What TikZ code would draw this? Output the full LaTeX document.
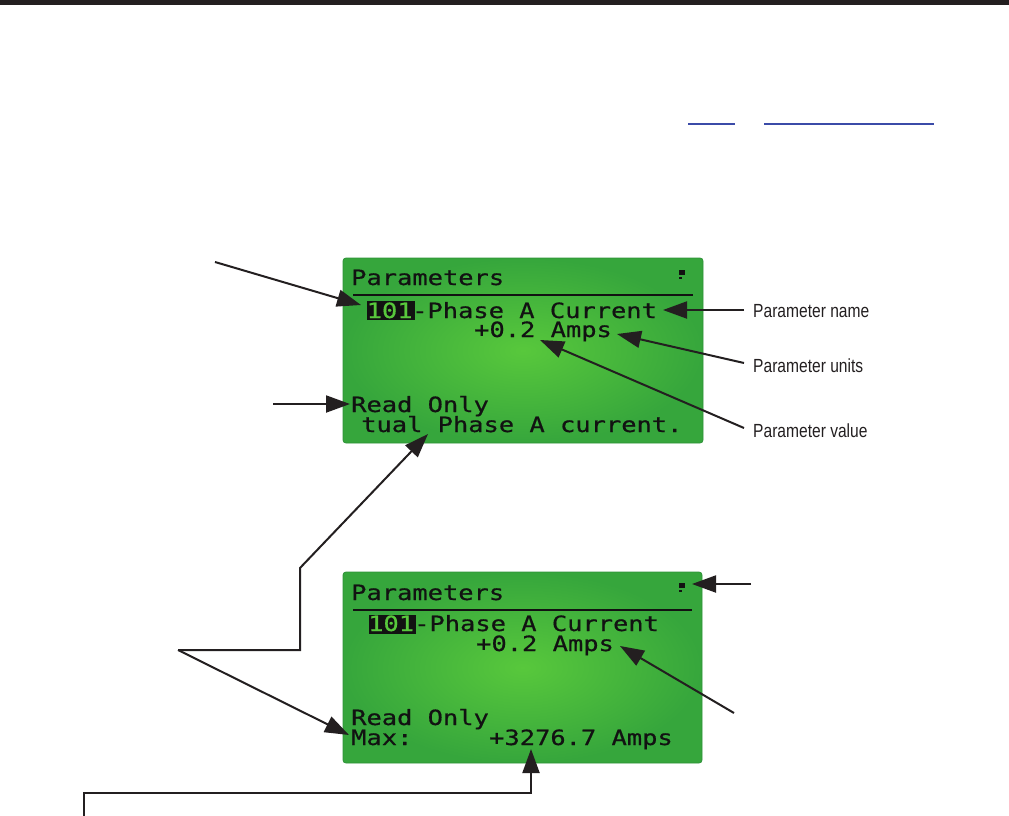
\documentclass[tikz,border=0pt]{standalone}
\usepackage{fontspec}
\usetikzlibrary{arrows.meta}
\newfontfamily\lcdfont{DejaVu Sans Mono}[FakeStretch=1.21, FakeBold=0.6]
\newfontfamily\labfont{Liberation Sans}[FakeStretch=0.82]
\definecolor{lcdin}{HTML}{58C83C}
\definecolor{lcdout}{HTML}{36A63C}
\definecolor{lcdframe}{HTML}{2E9238}
\definecolor{lcdink}{HTML}{121212}
\definecolor{lineblack}{HTML}{231F20}
\definecolor{linkblue}{HTML}{3B4BA8}
\begin{document}
\begin{tikzpicture}[x=1pt,y=-1pt,
  lcdtext/.style={anchor=base west, inner sep=0, text=lcdink, font=\lcdfont\fontsize{21}{21}\selectfont},
  lcdhl/.style={anchor=base west, inner sep=0, text=lcdin, font=\lcdfont\fontsize{21}{21}\selectfont},
  lab/.style={anchor=base west, inner sep=0, text=lineblack, font=\labfont\fontsize{19}{19}\selectfont},
  conn/.style={line width=2pt, draw=lineblack, line join=miter, -{Triangle[length=24pt,width=17pt]}},
  lcdpanel/.style={inner color=lcdin, outer color=lcdout, rounded corners=3pt},
  sepline/.style={line width=2pt, draw=lcdink}
]
\useasboundingbox (0,0) rectangle (1009,816);
% top rule and link underlines
\fill[lineblack] (0,0.5) rectangle (1009,5);
\draw[linkblue, line width=1.6pt] (688,124) -- (735,124);
\draw[linkblue, line width=1.6pt] (764,124) -- (934,124);

% ---------- LCD 1 ----------
\shade[lcdpanel] (343,258) rectangle (703,443);
\draw[lcdframe, line width=0.8pt, rounded corners=3pt] (343,258) rectangle (703,443);
\node[lcdtext] (p1) at (351,285) {Parameters};
\fill[lcdink] (679,270) rectangle (685,274.5);
\fill[lcdink] (679,276.5) rectangle (682,279);
\draw[sepline] (353,295) -- (693,295);
\fill[lcdink] (367,301) rectangle (415,320);
\node[lcdhl] (n1) at (366.5,318) {101};
\node[lcdtext] (c1) at (412,318) {-Phase A Current};
\node[lcdtext] (v1) at (474,337) {+0.2 Amps};
\node[lcdtext] (r1) at (351,412) {Read Only};
\node[lcdtext] (d1) at (361,432) {tual Phase A current.};

% ---------- LCD 2 ----------
\shade[lcdpanel] (343,572) rectangle (702,763);
\draw[lcdframe, line width=0.8pt, rounded corners=3pt] (343,572) rectangle (702,763);
\node[lcdtext] (p2) at (351,600) {Parameters};
\fill[lcdink] (679,583) rectangle (685,587.5);
\fill[lcdink] (679,589.5) rectangle (682,592);
\draw[sepline] (353,610) -- (692,610);
\fill[lcdink] (369,615) rectangle (416,634);
\node[lcdhl] (n2) at (368,631) {101};
\node[lcdtext] (c2) at (414,631) {-Phase A Current};
\node[lcdtext] (v2) at (476,651) {+0.2 Amps};
\node[lcdtext] (r2) at (351,725) {Read Only};
\node[lcdtext] (m2) at (351,745) {Max:};
\node[lcdtext] (x2) at (489,745) {+3276.7 Amps};

% ---------- labels ----------
\node[lab] (lname) at (753,317) {Parameter name};
\node[lab] (lunits) at (753,372) {Parameter units};
\node[lab] (lvalue) at (753,437) {Parameter value};

% ---------- connector points ----------
\coordinate (s1) at (215,262);  \coordinate (t1) at (361,305);
\coordinate (s2) at (273,404);  \coordinate (t2) at (350,404);
\coordinate (s3) at (744,310);  \coordinate (t3) at (663,310);
\coordinate (s4) at (744,363);  \coordinate (t4) at (617,334);
\coordinate (s5) at (744,428);  \coordinate (t5) at (540,340);
\coordinate (s6) at (178,650);  \coordinate (b6) at (300,650);
\coordinate (c6) at (300,568);  \coordinate (t6) at (428,434);
\coordinate (t7) at (349,735);
\coordinate (s8) at (751,584);  \coordinate (t8) at (692,584);
\coordinate (s9) at (734,713);  \coordinate (t9) at (620,646);
\coordinate (s10) at (84,816);  \coordinate (b10) at (84,793);
\coordinate (c10) at (531,793); \coordinate (t10) at (531,749);

% ---------- connectors ----------
\draw[conn] (s1) -- (t1);
\draw[conn] (s2) -- (t2);
\draw[conn] (s3) -- (t3);
\draw[conn] (s4) -- (t4);
\draw[conn] (s5) -- (t5);
\draw[conn] (s6) -- (b6) -- (c6) -- (t6);
\draw[conn] (s6) -- (t7);
\draw[conn] (s8) -- (t8);
\draw[conn] (s9) -- (t9);
\draw[conn] (s10) -- (b10) -- (c10) -- (t10);
\end{tikzpicture}
\end{document}
